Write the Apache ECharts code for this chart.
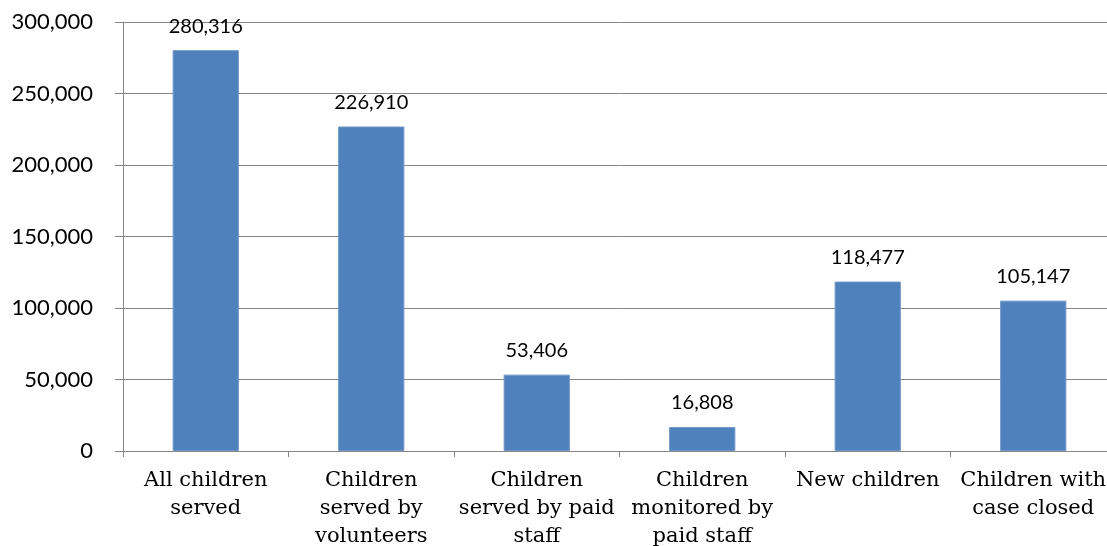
<!DOCTYPE html>
<html>
<head>
<meta charset="utf-8">
<script src="https://cdn.jsdelivr.net/npm/echarts@6/dist/echarts.min.js"></script>
<style>
  html, body { margin: 0; padding: 0; background: #fff; overflow: hidden; }
  /* plot area runs past the right edge of the page */
  #chart { width: 1116px; height: 546px; }
</style>
</head>
<body>
<div id="chart"></div>
<script>
// Category names (line breaks as shown under the axis)
const categories = [
  "All children\nserved",
  "Children\nserved by\nvolunteers",
  "Children\nserved by paid\nstaff",
  "Children\nmonitored by\npaid staff",
  "New children",
  "Children with\ncase closed"
];
// Number of children in each group
const childCounts = [280316, 226910, 53406, 16808, 118477, 105147];
// Value axis range
const yMin = 0;
const yMax = 300000;
const yStep = 50000;

const fmt = v => v.toLocaleString("en-US");

const chart = echarts.init(document.getElementById("chart"), null, { renderer: "canvas" });
chart.setOption({
  animation: false,
  backgroundColor: "#ffffff",
  grid: { left: 123, right: 0, top: 22, bottom: 95, containLabel: false, outerBoundsMode: "none" },
  xAxis: {
    type: "category",
    data: categories,
    axisLine: { show: true, lineStyle: { color: "#868686", width: 1 } },
    axisTick: { show: true, length: 6, alignWithLabel: false, lineStyle: { color: "#868686" } },
    axisLabel: {
      interval: 0,
      margin: 16,
      color: "#000",
      fontFamily: "DejaVu Serif",
      fontSize: 21,
      lineHeight: 28,
      align: "center"
    }
  },
  yAxis: {
    type: "value",
    min: yMin,
    max: yMax,
    interval: yStep,
    axisLine: { show: true, lineStyle: { color: "#868686", width: 1 } },
    axisTick: { show: true, length: 8, lineStyle: { color: "#868686" } },
    splitLine: { show: true, lineStyle: { color: "#868686", width: 1 } },
    axisLabel: {
      margin: 30,
      color: "#000",
      fontFamily: "Lato",
      fontSize: 22,
      formatter: v => fmt(v)
    }
  },
  series: [{
    type: "bar",
    data: childCounts,
    barWidth: "40%",
    itemStyle: { color: "#4F81BD", borderColor: "#6E97C8", borderWidth: 1 },
    label: {
      show: true,
      position: "top",
      distance: 14,
      color: "#000",
      fontFamily: "Lato",
      fontSize: 20,
      formatter: p => fmt(p.value)
    }
  }]
});
</script>
</body>
</html>
